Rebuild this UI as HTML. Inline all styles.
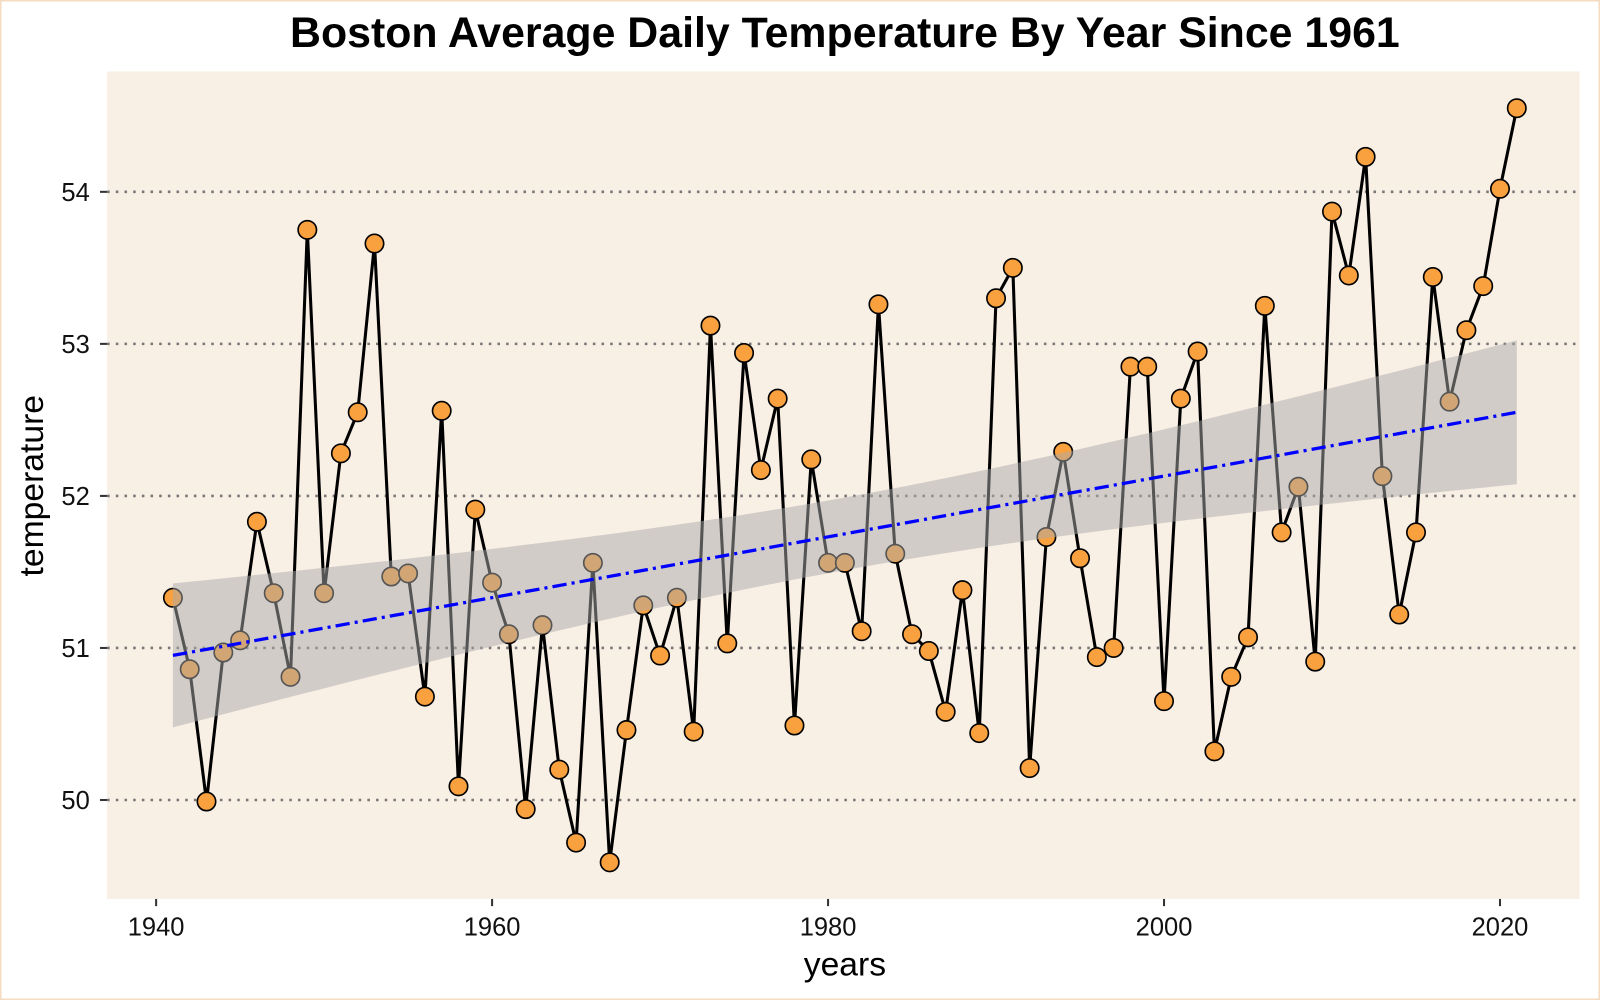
<!DOCTYPE html>
<html><head><meta charset="utf-8"><style>
html,body{margin:0;padding:0;background:#fff;}
svg{display:block;font-family:"Liberation Sans",Arial,sans-serif;}
</style></head><body>
<svg id="chart" width="1600" height="1000" viewBox="0 0 1568 980" xmlns="http://www.w3.org/2000/svg">
<rect x="0.5" y="0.5" width="1567" height="979" fill="#fff" stroke="#f5dcc0" stroke-width="2"/>
<text x="828" y="46" text-anchor="middle" font-size="42" font-weight="bold" fill="#000">Boston Average Daily Temperature By Year Since 1961</text>
<rect x="105" y="70" width="1443" height="811" fill="#f8efe5"/>
<g id="grid"></g><g id="series"></g><g id="band"></g><g id="axes"></g>
<text x="828" y="956" text-anchor="middle" font-size="33" fill="#000">years</text>
<text transform="translate(42,476) rotate(-90)" text-anchor="middle" font-size="33" fill="#000">temperature</text>
</svg>
<script>
const years = [];
for (let y = 1941; y <= 2021; y++) years.push(y);
const temps = [51.33,50.86,49.99,50.97,51.05,51.83,51.36,50.81,53.75,51.36,52.28,52.55,53.66,51.47,51.49,50.68,52.56,50.09,51.91,51.43,
51.09,49.94,51.15,50.20,49.72,51.56,49.59,50.46,51.28,50.95,51.33,50.45,53.12,51.03,52.94,52.17,52.64,50.49,52.24,51.56,
51.56,51.11,53.26,51.62,51.09,50.98,50.58,51.38,50.44,53.30,53.50,50.21,51.73,52.29,51.59,50.94,51.00,52.85,52.85,50.65,
52.64,52.95,50.32,50.81,51.07,53.25,51.76,52.06,50.91,53.87,53.45,54.23,52.13,51.22,51.76,53.44,52.62,53.09,53.38,54.02,54.55];
const xTicks = [1940,1960,1980,2000,2020];
const yTicks = [50,51,52,53,54];

const NS = "http://www.w3.org/2000/svg";
const X = v => 153 + (v - 1940) * (1470 - 153) / 80;
const Y = v => 784 - (v - 50) * (784 - 188) / 4;
function mk(tag, attrs, parent) {
  const e = document.createElementNS(NS, tag);
  for (const k in attrs) e.setAttribute(k, attrs[k]);
  parent.appendChild(e); return e;
}
const grid = document.getElementById('grid'), series = document.getElementById('series'),
      band = document.getElementById('band'), axes = document.getElementById('axes');

yTicks.forEach(t => {
  const l = mk('line', {x1:105, x2:1548, y1:Y(t), y2:Y(t), stroke:'#777', 'stroke-width':2.5, 'stroke-dasharray':'2.5 6'}, grid);
  
  
  const tx = mk('text', {x:88, y:Y(t)+9, 'text-anchor':'end', 'font-size':25, fill:'#111'}, axes);
  tx.textContent = t;
  
  
  const tk = mk('line', {x1:98, x2:105, y1:Y(t), y2:Y(t), stroke:'#333', 'stroke-width':2}, axes);
  
  
});
xTicks.forEach(t => {
  const tk = mk('line', {x1:X(t), x2:X(t), y1:881, y2:888, stroke:'#333', 'stroke-width':2}, axes);
  
  
  const tx = mk('text', {x:X(t), y:917, 'text-anchor':'middle', 'font-size':25, fill:'#111'}, axes);
  tx.textContent = t;
  
  
});

const line = mk('polyline', {points: years.map((y,i)=>X(y)+','+Y(temps[i])).join(' '), fill:'none', stroke:'#000', 'stroke-width':3, 'stroke-linejoin':'round'}, series);


years.forEach((y,i) => {
  const c = mk('circle', {cx:X(y), cy:Y(temps[i]), r:9, fill:'#f9a03f', stroke:'#000', 'stroke-width':1.6}, series);
  
  
});

const n = years.length;
const xm = years.reduce((a,b)=>a+b,0)/n, ym = temps.reduce((a,b)=>a+b,0)/n;
let sxx=0, sxy=0;
years.forEach((x,i)=>{ sxx += (x-xm)*(x-xm); sxy += (x-xm)*(temps[i]-ym); });
const b = sxy/sxx, a = ym - b*xm;
let sse = 0; years.forEach((x,i)=>{ const r = temps[i]-(a+b*x); sse += r*r; });
const s = Math.sqrt(sse/(n-2)), tq = 1.99;
const up = [], lo = [];
for (let k = 0; k <= 80; k++) {
  const x = 1941 + k;
  const f = a + b*x, se = s*Math.sqrt(1/n + (x-xm)*(x-xm)/sxx);
  up.push(X(x)+','+Y(f+tq*se)); lo.unshift(X(x)+','+Y(f-tq*se));
}
const poly = mk('polygon', {points: up.concat(lo).join(' '), fill:'#a9a9a9', 'fill-opacity':0.5}, band);


const fit = mk('line', {x1:X(1941), y1:Y(a+b*1941), x2:X(2021), y2:Y(a+b*2021), stroke:'#0000ff', 'stroke-width':3.2, 'stroke-dasharray':'14 5 3 5'}, band);


</script>
</body></html>
